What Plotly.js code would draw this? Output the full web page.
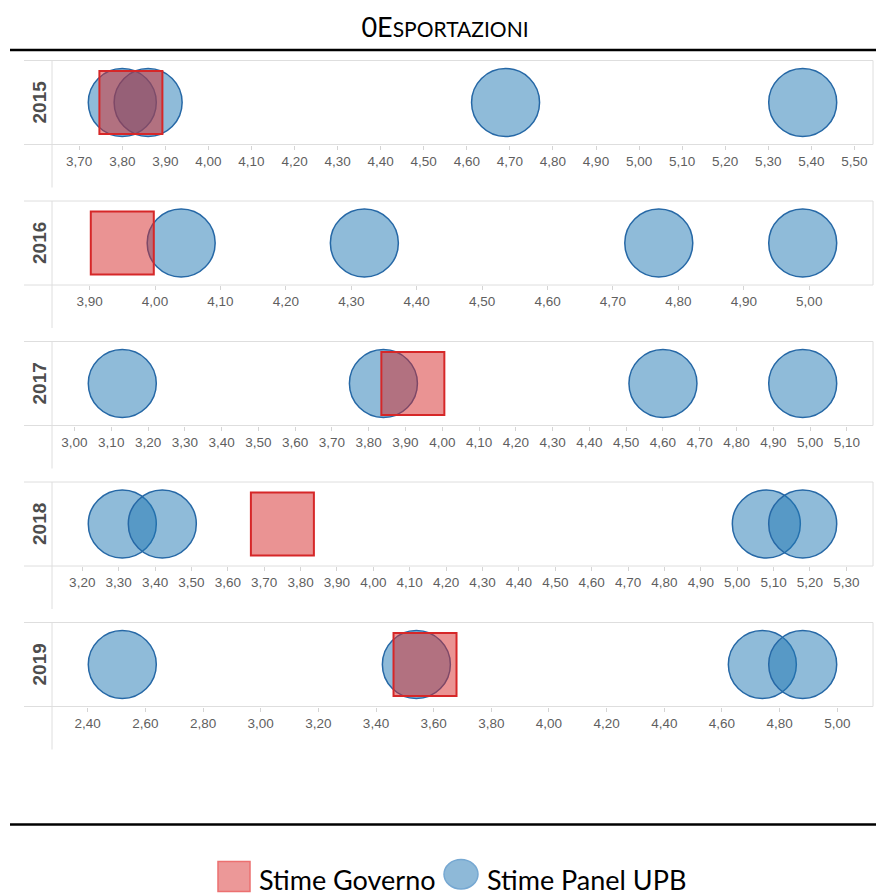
<!DOCTYPE html>
<html>
<head>
<meta charset="utf-8">
<script src="https://cdn.plot.ly/plotly-3.0.1.min.js"></script>
<style>html,body{margin:0;padding:0;background:#fff;}#chart{width:876px;height:895px;}</style>
</head>
<body>
<div id="chart"></div>
<script>
// ---- data ----
const years = ['2015', '2016', '2017', '2018', '2019'];
const governo = [3.82, 3.95, 3.92, 3.75, 3.57];
const panel2015 = [3.80, 3.86, 4.69, 5.38];
const panel2016 = [4.04, 4.32, 4.77, 4.99];
const panel2017 = [3.13, 3.84, 4.60, 4.98];
const panel2018 = [3.31, 3.42, 5.08, 5.18];
const panel2019 = [2.52, 3.54, 4.74, 4.88];
const tickSteps = [0.1, 0.1, 0.1, 0.1, 0.2];
const titleMain = '0E';
const titleSmallCaps = 'SPORTAZIONI';
const legendGoverno = 'Stime Governo';
const legendPanel = 'Stime Panel UPB';

const panels = [panel2015, panel2016, panel2017, panel2018, panel2019];

// ---- layout helpers (pixel -> paper) ----
const W = 876, H = 895;
const px = x => x / W;
const py = y => 1 - y / H;
const panelTops = [60.5, 201, 341.5, 482, 622.5];
const panelH = 84;
const plotL = 52, plotR = 873, lineL = 24;
const gridCol = '#dedede';

const blueFill = 'rgba(31,119,180,0.5)';
const blueLine = 'rgb(38,104,166)';
const redFill = 'rgba(214,39,40,0.5)';
const redLine = 'rgb(214,39,40)';
const legendFont = {family: 'Lato, Carlito, sans-serif', size: 27, color: '#000'};

const data = [];
const layout = {
  width: W, height: H,
  margin: {l: 0, r: 0, t: 0, b: 0},
  paper_bgcolor: '#fff', plot_bgcolor: 'rgba(0,0,0,0)',
  showlegend: false,
  separators: ',.',
  font: {family: 'Liberation Sans, Arial, sans-serif', color: '#666'},
  title: {
    text: titleMain + '<span style="font-size:21px">' + titleSmallCaps + '</span>',
    font: {family: 'Lato, Carlito, sans-serif', size: 27, color: '#000'},
    x: px(445), xanchor: 'center', xref: 'paper',
    y: py(27.5), yanchor: 'middle', yref: 'container'
  },
  shapes: [],
  annotations: []
};

panels.forEach((vals, i) => {
  const n = i + 1;
  const xa = 'x' + (n === 1 ? '' : n), ya = 'y' + (n === 1 ? '' : n);
  const top = panelTops[i], axisY = top + panelH;
  const all = vals.concat([governo[i]]);
  const mn = Math.min(...all), mx = Math.max(...all);
  const pad = 0.1033 * (mx - mn);

  data.push({
    type: 'scatter', mode: 'markers', xaxis: xa, yaxis: ya,
    x: vals, y: vals.map(() => years[i]),
    name: legendPanel, hoverinfo: 'x',
    marker: {symbol: 'circle', size: 68, color: blueFill, line: {color: blueLine, width: 1.5}}
  });
  data.push({
    type: 'scatter', mode: 'markers', xaxis: xa, yaxis: ya,
    x: [governo[i]], y: [years[i]],
    name: legendGoverno, hoverinfo: 'x',
    marker: {symbol: 'square', size: 63, color: redFill, line: {color: redLine, width: 2}}
  });

  layout['xaxis' + (n === 1 ? '' : n)] = {
    domain: [px(plotL), px(plotR)], anchor: ya,
    range: [mn - pad, mx + pad],
    tickmode: 'linear', tick0: 0, dtick: tickSteps[i], tickformat: '.2f',
    showgrid: false, zeroline: false, showline: false,
    ticks: 'outside', ticklen: 4, tickwidth: 1, tickcolor: '#d4d4d4',
    tickfont: {family: 'Liberation Sans, Arial, sans-serif', size: 13.5, color: '#5f5f5f'},
    fixedrange: true
  };
  layout['yaxis' + (n === 1 ? '' : n)] = {
    domain: [py(axisY), py(top)], anchor: xa,
    type: 'category', range: [-0.5, 0.5],
    showgrid: false, zeroline: false, showline: false, showticklabels: false, ticks: '',
    fixedrange: true
  };

  const L = (x0, y0, x1, y1) => ({type: 'line', xref: 'paper', yref: 'paper', layer: 'below',
    x0: px(x0), y0: py(y0), x1: px(x1), y1: py(y1), line: {color: gridCol, width: 1}});
  layout.shapes.push(L(lineL, top, plotR, top));
  layout.shapes.push(L(lineL, axisY, plotR, axisY));
  layout.shapes.push(L(plotL, top, plotL, axisY + 43));
  layout.shapes.push(L(plotR, top, plotR, axisY));

  layout.annotations.push({
    text: '<b>' + years[i] + '</b>', xref: 'paper', yref: 'paper',
    x: px(39), y: py(top + panelH / 2), xanchor: 'center', yanchor: 'middle',
    textangle: -90, showarrow: false,
    font: {family: 'Liberation Sans, Arial, sans-serif', size: 19, color: '#4d4d4d'}
  });
});

// black separator rules
layout.shapes.push({type: 'line', xref: 'paper', yref: 'paper', x0: px(10), x1: px(876), y0: py(50), y1: py(50), line: {color: '#000', width: 2.5}});
layout.shapes.push({type: 'line', xref: 'paper', yref: 'paper', x0: px(10), x1: px(876), y0: py(824.5), y1: py(824.5), line: {color: '#000', width: 2.5}});

// legend keys
layout.shapes.push({type: 'rect', xref: 'paper', yref: 'paper', x0: px(218), x1: px(250), y0: py(861.5), y1: py(891.5),
  fillcolor: 'rgb(236,152,152)', line: {color: 'rgb(236,112,112)', width: 1.5}});
layout.shapes.push({type: 'circle', xref: 'paper', yref: 'paper', x0: px(444), x1: px(478), y0: py(859.5), y1: py(889),
  fillcolor: 'rgb(142,185,216)', line: {color: 'rgb(118,168,210)', width: 1.5}});
layout.annotations.push({text: legendGoverno, xref: 'paper', yref: 'paper', x: px(257), y: py(879),
  xanchor: 'left', yanchor: 'middle', showarrow: false, font: legendFont});
layout.annotations.push({text: legendPanel, xref: 'paper', yref: 'paper', x: px(485), y: py(879),
  xanchor: 'left', yanchor: 'middle', showarrow: false, font: legendFont});

Plotly.newPlot('chart', data, layout, {displayModeBar: false, staticPlot: true});
</script>
</body>
</html>
